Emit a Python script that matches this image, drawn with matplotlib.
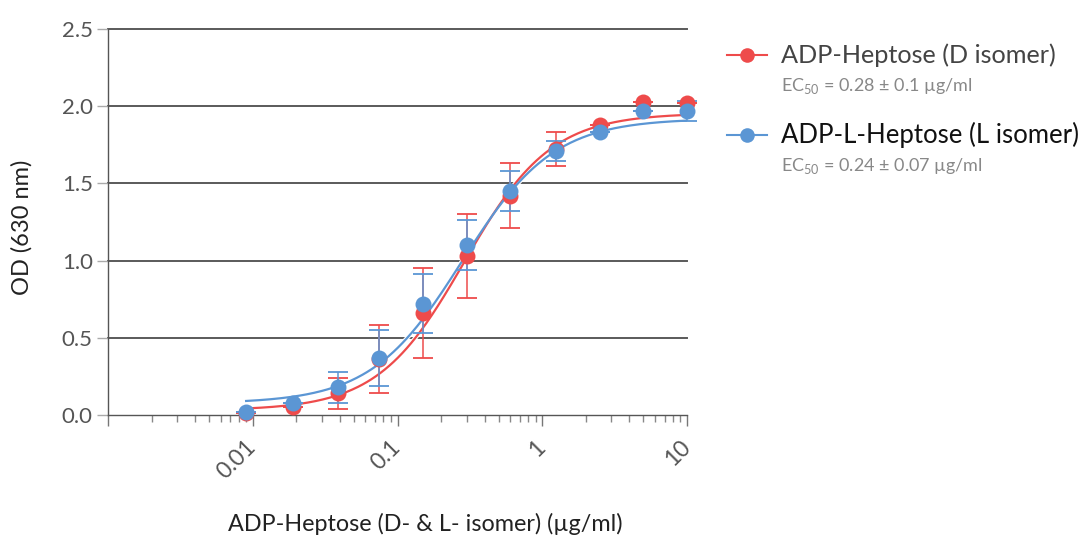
import numpy as np
import matplotlib
matplotlib.use("Agg")
import matplotlib.pyplot as plt
from matplotlib.lines import Line2D
from matplotlib.ticker import LogLocator, NullFormatter, FixedLocator, FixedFormatter

plt.rcParams['font.family'] = ['Lato', 'DejaVu Sans']
plt.rcParams['mathtext.fontset'] = 'custom'
plt.rcParams['mathtext.rm'] = 'Lato'

# concentrations (ug/ml)
conc = [0.009, 0.019, 0.039, 0.075, 0.15, 0.3, 0.6, 1.25, 2.5, 5, 10]

od_d = [0.01, 0.05, 0.14, 0.36, 0.66, 1.03, 1.42, 1.72, 1.88, 2.03, 2.02]
err_d = [0.0, 0.0, 0.10, 0.22, 0.29, 0.27, 0.21, 0.11, 0.0, 0.0, 0.0]

od_l = [0.02, 0.08, 0.18, 0.37, 0.72, 1.10, 1.45, 1.71, 1.83, 1.97, 1.97]
err_l = [0.0, 0.0, 0.10, 0.18, 0.19, 0.16, 0.13, 0.065, 0.0, 0.0, 0.065]

# 4PL fit parameters (bottom, top, ec50, hill)
fit_d = [0.03, 1.955, 0.29, 1.45]
fit_l = [0.075, 1.92, 0.28, 1.38]

labels = ["ADP-Heptose (D isomer)", "ADP-L-Heptose (L isomer)"]
ec50_txt = ["EC$_{50}$ = 0.28 ± 0.1 µg/ml", "EC$_{50}$ = 0.24 ± 0.07 µg/ml"]

red = "#ee4b4b"
blue = "#5b96d4"


def four_pl(x, p):
    b, t, c, h = p
    return b + (t - b) / (1 + (c / x) ** h)


fig = plt.figure(figsize=(10.8, 5.38), dpi=100)
ax = fig.add_axes([108 / 1080, 1 - 415 / 538, (687 - 108) / 1080, (415 - 29) / 538])

xs = np.logspace(np.log10(conc[0]), np.log10(conc[-1]), 300)

for yv in [0.5, 1.0, 1.5, 2.0, 2.5]:
    ax.axhline(yv, color="#5a5a5a", lw=1.4, zorder=1, clip_on=False)

for od, err, p, col in [(od_d, err_d, fit_d, red), (od_l, err_l, fit_l, blue)]:
    ax.plot(xs, four_pl(xs, p), color="white", lw=3.2, zorder=2, solid_capstyle="butt")
    ax.plot(xs, four_pl(xs, p), color=col, lw=1.6, zorder=3)
    ax.errorbar(conc, od, yerr=err, fmt="none", ecolor=col, elinewidth=1.1,
                capsize=7.5, capthick=1.3, zorder=3, clip_on=False)
    ax.plot(conc, od, "o", color=col, ms=11.5, mec="none", zorder=4, clip_on=False)

ax.set_xscale("log")
ax.set_xlim(0.001, 10)
ax.set_ylim(0, 2.5)

for s in ["top", "right"]:
    ax.spines[s].set_visible(False)
for s in ["left", "bottom"]:
    ax.spines[s].set_color("#555555")
    ax.spines[s].set_linewidth(1.0)

ax.xaxis.set_major_locator(FixedLocator([0.001, 0.01, 0.1, 1, 10]))
ax.xaxis.set_major_formatter(FixedFormatter(["", "0.01", "0.1", "1", "10"]))
ax.xaxis.set_minor_locator(LogLocator(base=10, subs=np.arange(2, 10)))
ax.xaxis.set_minor_formatter(NullFormatter())
ax.tick_params(axis="x", which="major", length=8, width=1, color="#777777", pad=13)
ax.tick_params(axis="x", which="minor", length=5, width=1, color="#888888")
ax.tick_params(axis="y", which="major", length=8, width=1, color="#aaaaaa", pad=3)

ax.set_yticks([0.0, 0.5, 1.0, 1.5, 2.0, 2.5])
ax.set_yticklabels(["0.0", "0.5", "1.0", "1.5", "2.0", "2.5"])
for t in ax.get_yticklabels():
    t.set_fontsize(16)
    t.set_color("#555555")
for t in ax.get_xticklabels():
    t.set_fontsize(16.5)
    t.set_color("#555555")
    t.set_rotation(45)
    t.set_ha("right")
    t.set_va("center")
    t.set_rotation_mode("anchor")

fig.text(22 / 1080, 1 - 227 / 538, "OD (630 nm)", rotation=90, ha="center", va="center",
         fontsize=17, color="#222222")
fig.text(425 / 1080, 1 - 524 / 538, "ADP-Heptose (D- & L- isomer) (µg/ml)", ha="center",
         va="center", fontsize=16.8, color="#222222")

# legend
for i, (col, lab, ec) in enumerate(zip([red, blue], labels, ec50_txt)):
    y0 = [55, 135][i]
    fy = 1 - y0 / 538
    fig.add_artist(Line2D([727 / 1080, 767 / 1080], [fy, fy], color=col, lw=1.5,
                          transform=fig.transFigure))
    fig.add_artist(Line2D([747 / 1080], [fy], marker="o", ms=10.5, color=col, mec="none",
                          transform=fig.transFigure))
    fig.text(781 / 1080, fy, lab, ha="left", va="center", fontsize=[18.2, 18.5][i],
             color=["#444444", "#111111"][i])
    fig.text(781 / 1080, 1 - (y0 + 31) / 538, ec, ha="left", va="center", fontsize=13,
             color="#888888")

fig.savefig("out.png", dpi=100)
